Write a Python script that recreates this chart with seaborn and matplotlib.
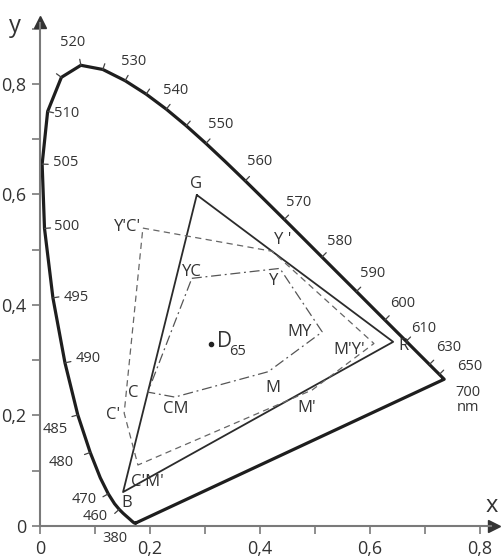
import numpy as np
import matplotlib
matplotlib.use("Agg")
import matplotlib.pyplot as plt
import seaborn as sns
from matplotlib.ticker import FixedLocator, FuncFormatter

# CIE 1931 spectral locus (5 nm steps)
wavelengths = list(range(380, 705, 5))
locus_x = [0.1741, 0.1740, 0.1738, 0.1736, 0.1733, 0.1730, 0.1726, 0.1721, 0.1714, 0.1703,
           0.1689, 0.1669, 0.1644, 0.1611, 0.1566, 0.1510, 0.1440, 0.1355, 0.1241, 0.1096,
           0.0913, 0.0687, 0.0454, 0.0235, 0.0082, 0.0039, 0.0139, 0.0389, 0.0743, 0.1142,
           0.1547, 0.1929, 0.2296, 0.2658, 0.3016, 0.3373, 0.3731, 0.4087, 0.4441, 0.4788,
           0.5125, 0.5448, 0.5752, 0.6029, 0.6270, 0.6482, 0.6658, 0.6801, 0.6915, 0.7006,
           0.7079, 0.7140, 0.7190, 0.7230, 0.7260, 0.7283, 0.7300, 0.7311, 0.7320, 0.7327,
           0.7334, 0.7340, 0.7344, 0.7346, 0.7347]
locus_y = [0.0050, 0.0050, 0.0049, 0.0049, 0.0048, 0.0048, 0.0048, 0.0048, 0.0051, 0.0058,
           0.0069, 0.0086, 0.0109, 0.0138, 0.0177, 0.0227, 0.0297, 0.0399, 0.0578, 0.0868,
           0.1327, 0.2007, 0.2950, 0.4127, 0.5384, 0.6548, 0.7502, 0.8120, 0.8338, 0.8262,
           0.8059, 0.7816, 0.7543, 0.7243, 0.6923, 0.6589, 0.6245, 0.5896, 0.5547, 0.5202,
           0.4866, 0.4544, 0.4242, 0.3965, 0.3725, 0.3514, 0.3340, 0.3197, 0.3083, 0.2993,
           0.2920, 0.2859, 0.2809, 0.2770, 0.2740, 0.2717, 0.2700, 0.2689, 0.2680, 0.2673,
           0.2666, 0.2660, 0.2656, 0.2654, 0.2653]

# wavelengths marked on the locus
tick_wl = [460, 470, 480, 485, 490, 495, 500, 505, 510, 515, 520, 525, 530, 535, 540,
           545, 550, 560, 570, 580, 590, 600, 610, 630, 650]
inward_wl = [490, 495, 500, 505, 510]
label_wl = ["380", "460", "470", "480", "485", "490", "495", "500", "505", "510", "520",
            "530", "540", "550", "560", "570", "580", "590", "600", "610", "630", "650",
            "700\nnm"]

# primaries triangle G, R, B
tri_names = ["G", "R", "B"]
tri_x = [0.285, 0.642, 0.151]
tri_y = [0.599, 0.333, 0.061]

# primed gamut (dashed)
dash_names = ["Y'C'", "Y '", "M'Y'", "M'", "C'M'", "C'"]
dash_x = [0.187, 0.422, 0.607, 0.495, 0.178, 0.153]
dash_y = [0.539, 0.497, 0.330, 0.246, 0.110, 0.204]

# unprimed gamut (dash-dot)
dd_names = ["YC", "Y", "MY", "M", "CM", "C"]
dd_x = [0.276, 0.436, 0.513, 0.415, 0.245, 0.196]
dd_y = [0.448, 0.466, 0.351, 0.279, 0.233, 0.242]

white_x, white_y = 0.311, 0.329

# text placement (data coords)
wl_text_pos = {
    "380": (0.136, -0.023), "460": (0.100, 0.016), "470": (0.081, 0.048),
    "480": (0.039, 0.114), "485": (0.028, 0.175), "490": (0.088, 0.302),
    "495": (0.065, 0.414), "500": (0.048, 0.541), "505": (0.046, 0.657),
    "510": (0.049, 0.747), "520": (0.060, 0.875), "530": (0.171, 0.840),
    "540": (0.247, 0.788), "550": (0.329, 0.726), "560": (0.400, 0.660),
    "570": (0.471, 0.586), "580": (0.544, 0.514), "590": (0.605, 0.457),
    "600": (0.660, 0.402), "610": (0.698, 0.358), "630": (0.742, 0.322),
    "650": (0.782, 0.288), "700\nnm": (0.778, 0.228),
}
vertex_text_pos = {
    "G": (0.284, 0.618), "R": (0.660, 0.326), "B": (0.158, 0.041),
    "Y'C'": (0.184, 0.541), "Y '": (0.442, 0.517), "M'Y'": (0.562, 0.318),
    "M'": (0.485, 0.213), "C'M'": (0.196, 0.079), "C'": (0.133, 0.200),
    "YC": (0.276, 0.459), "Y": (0.424, 0.443), "MY": (0.472, 0.350),
    "M": (0.424, 0.249), "CM": (0.247, 0.211), "C": (0.170, 0.240),
}

sns.set_style("white")
plt.rcParams['font.family'] = ['Open Sans', 'DejaVu Sans']

fig = plt.figure(figsize=(5.01, 5.6), dpi=100)
ax = fig.add_axes([0, 0, 1, 1])
ax.set_xlim(-0.0727, 0.838)
ax.set_ylim(-0.062, 0.952)

axis_col = "#7a7a7a"
for side in ["top", "right"]:
    ax.spines[side].set_visible(False)
ax.spines["left"].set_position(("data", 0))
ax.spines["bottom"].set_position(("data", 0))
ax.spines["left"].set_bounds(0, 0.91)
ax.spines["bottom"].set_bounds(0, 0.82)
for side in ["left", "bottom"]:
    ax.spines[side].set_color(axis_col)
    ax.spines[side].set_linewidth(1.5)
ax.plot([0], [0.912], marker="^", color="#333333", markersize=8, clip_on=False)
ax.plot([0.826], [0], marker=">", color="#333333", markersize=8, clip_on=False)

fmt = FuncFormatter(lambda v, p: "0" if abs(v) < 1e-9 else f"{v:.1f}".replace(".", ","))
ax.xaxis.set_major_locator(FixedLocator([0, 0.2, 0.4, 0.6, 0.8]))
ax.xaxis.set_minor_locator(FixedLocator([0.1, 0.3, 0.5, 0.7]))
ax.yaxis.set_major_locator(FixedLocator([0, 0.2, 0.4, 0.6, 0.8]))
ax.yaxis.set_minor_locator(FixedLocator([0.1, 0.3, 0.5, 0.7, 0.9]))
ax.xaxis.set_major_formatter(fmt)
ax.yaxis.set_major_formatter(fmt)
ax.tick_params(which="both", direction="out", length=6, width=1.2, color=axis_col,
               labelsize=13, labelcolor="#333333", pad=4, bottom=True, left=True)

ax.text(-0.045, 0.905, "y", fontsize=17, ha="center", va="center", color="#333333")
ax.text(0.822, 0.036, "x", fontsize=17, ha="center", va="center", color="#333333")

# spectral locus closed by the purple line
lx = locus_x + [locus_x[0]]
ly = locus_y + [locus_y[0]]
sns.lineplot(x=lx, y=ly, sort=False, color="#1e1e1e", linewidth=2.3, ax=ax,
             estimator=None, solid_joinstyle="round")

# wavelength ticks
wx = np.array(locus_x)
wy = np.array(locus_y)
for wl in tick_wl:
    i = wavelengths.index(wl)
    tx = wx[i + 1] - wx[i - 1]
    ty = wy[i + 1] - wy[i - 1]
    nx, ny = -ty, tx
    n = np.hypot(nx, ny)
    nx, ny = nx / n, ny / n
    if (wx[i] - white_x) * nx + (wy[i] - white_y) * ny < 0:
        nx, ny = -nx, -ny
    L = 0.011
    if wl in inward_wl:
        nx, ny = -nx, -ny
    ax.plot([wx[i], wx[i] + L * nx], [wy[i], wy[i] + L * ny], color="#444444", lw=0.9)

for lab in label_wl:
    px, py = wl_text_pos[lab]
    ax.text(px, py, lab, fontsize=10.5, ha="center", va="center", color="#333333",
            linespacing=1.0)

# RGB triangle
sns.lineplot(x=tri_x + [tri_x[0]], y=tri_y + [tri_y[0]], sort=False, estimator=None,
             color="#2b2b2b", linewidth=1.3, ax=ax)
# primed gamut
ax.plot(dash_x + [dash_x[0]], dash_y + [dash_y[0]], color="#666666", lw=0.9,
        dashes=(5, 3.5))
# unprimed gamut
ax.plot(dd_x + [dd_x[0]], dd_y + [dd_y[0]], color="#555555", lw=0.9,
        dashes=(8, 3, 1.5, 3))

for name in tri_names + dash_names + dd_names:
    px, py = vertex_text_pos[name]
    ha = "right" if name == "Y'C'" else "center"
    ax.text(px, py, name, fontsize=12, ha=ha, va="center", color="#333333")

# white point
ax.plot([white_x], [white_y], "o", color="#222222", markersize=3)
ax.text(0.321, 0.334, "D", fontsize=15, ha="left", va="center", color="#333333")
ax.text(0.343, 0.316, "65", fontsize=10.5, ha="left", va="center", color="#333333")

fig.savefig("out.png", dpi=100)
